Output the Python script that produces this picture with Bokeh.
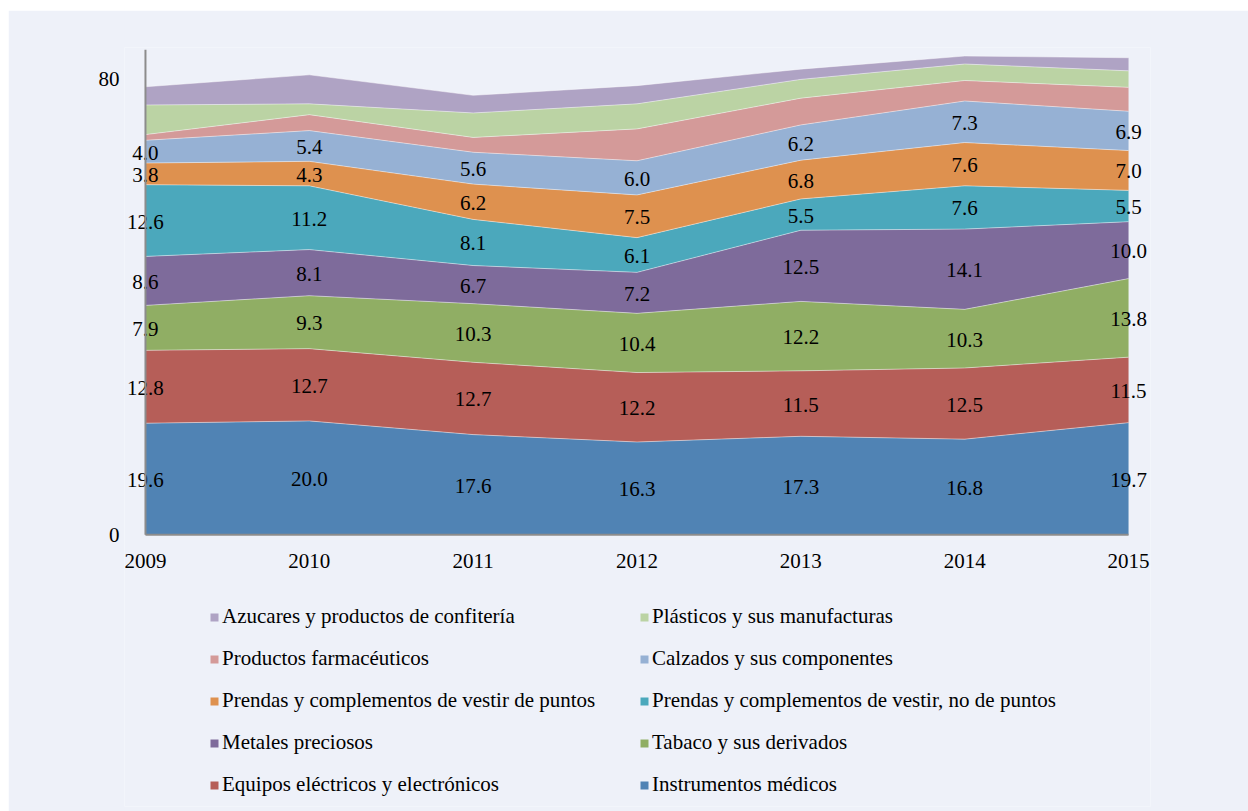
from bokeh.plotting import figure
from bokeh.models import (Range1d, FixedTicker, Legend, LegendItem, ColumnDataSource,
                          Spacer)
from bokeh.layouts import column, row
from bokeh.embed import file_html
from bokeh.resources import INLINE
from bokeh.core.properties import value

# ---- data (percent shares) ----
years = [2009, 2010, 2011, 2012, 2013, 2014, 2015]
instrumentos = [19.6, 20.0, 17.6, 16.3, 17.3, 16.8, 19.7]
equipos = [12.8, 12.7, 12.7, 12.2, 11.5, 12.5, 11.5]
tabaco = [7.9, 9.3, 10.3, 10.4, 12.2, 10.3, 13.8]
metales = [8.6, 8.1, 6.7, 7.2, 12.5, 14.1, 10.0]
prendas_no_puntos = [12.6, 11.2, 8.1, 6.1, 5.5, 7.6, 5.5]
prendas_puntos = [3.8, 4.3, 6.2, 7.5, 6.8, 7.6, 7.0]
calzados = [4.0, 5.4, 5.6, 6.0, 6.2, 7.3, 6.9]
farmaceuticos = [1.0, 2.8, 2.6, 5.6, 4.7, 3.6, 4.2]
plasticos = [5.2, 1.9, 4.3, 4.4, 3.3, 2.9, 2.9]
azucares = [3.2, 5.1, 3.1, 3.2, 1.8, 1.4, 2.3]

names = [
    "Instrumentos médicos",
    "Equipos eléctricos y electrónicos",
    "Tabaco y sus derivados",
    "Metales preciosos",
    "Prendas y complementos de vestir, no de puntos",
    "Prendas y complementos de vestir de puntos",
    "Calzados y sus componentes",
    "Productos farmacéuticos",
    "Plásticos y sus manufacturas",
    "Azucares y productos de confitería",
]
series = [instrumentos, equipos, tabaco, metales, prendas_no_puntos,
          prendas_puntos, calzados, farmaceuticos, plasticos, azucares]
labelled = 7  # bottom series carrying value labels
colors = ["#5083B4", "#B65E58", "#90AE64", "#7E6B9B", "#4BA8BC",
          "#DE914F", "#96B1D4", "#D49A99", "#BBD3A4", "#AFA3C4"]
y_ticks = [0, 80]
axis_top = 85.2

legend_left = ["Azucares y productos de confitería", "Productos farmacéuticos",
               "Prendas y complementos de vestir de puntos", "Metales preciosos",
               "Equipos eléctricos y electrónicos"]
legend_right = ["Plásticos y sus manufacturas", "Calzados y sus componentes",
                "Prendas y complementos de vestir, no de puntos", "Tabaco y sus derivados",
                "Instrumentos médicos"]

FONT = "Liberation Serif"
BG = "#EEF1F9"
AXIS = "#8C8C8C"

keys = ["s%d" % i for i in range(len(series))]
data = {"year": years}
for k, s in zip(keys, series):
    data[k] = s
src = ColumnDataSource(data)

# The frame reaches below the axis so that the legend (drawn in the frame) is not clipped,
# and is a little wider than the data so that the edge value labels show in full.
p = figure(width=1240, height=801, output_backend="svg", toolbar_location=None,
           x_range=Range1d(years[0] - 0.128, years[-1] + 0.134),
           y_range=Range1d(-47.73, 85.6),
           min_border_left=116, min_border_right=98,
           min_border_top=37, min_border_bottom=5)
p.background_fill_color = BG
p.border_fill_color = BG
p.outline_line_color = None
p.grid.visible = False

rends = p.varea_stack(stackers=keys, x="year", source=src, color=colors)

cum = [0.0] * len(years)
for i, s in enumerate(series):
    mids = [c + v / 2 for c, v in zip(cum, s)]
    cum = [c + v for c, v in zip(cum, s)]
    p.line(years, cum, line_color="white", line_alpha=0.45, line_width=1)
    if i < labelled:
        p.text(x=years, y=mids, text=["%.1f" % v for v in s],
               text_font=value(FONT), text_font_size="21px", text_color="black",
               text_align="center", text_baseline="middle", y_offset=1)

# axis lines drawn at the data extent
p.line([years[0], years[-1]], [0, 0], line_color=AXIS, line_width=2)
p.line([years[0], years[0]], [0, axis_top], line_color=AXIS, line_width=2)

for ax in (p.xaxis[0], p.yaxis[0]):
    ax.axis_line_color = None
    ax.major_tick_line_color = None
    ax.minor_tick_line_color = None
    ax.major_tick_in = 0
    ax.major_tick_out = 0
    ax.minor_tick_out = 0
    ax.major_label_text_font = FONT
    ax.major_label_text_font_size = "21px"
    ax.major_label_text_color = "black"

p.xaxis.ticker = FixedTicker(ticks=years)
p.xaxis.fixed_location = 0
p.yaxis.ticker = FixedTicker(ticks=y_ticks)
p.xaxis.major_label_standoff = 19
p.yaxis.major_label_standoff = 5

by_name = dict(zip(names, rends))

def make_legend(items, loc):
    return Legend(items=[LegendItem(label=n, renderers=[by_name[n]]) for n in items],
                  location=loc, orientation="vertical",
                  glyph_width=10, glyph_height=10, label_standoff=3,
                  spacing=17, padding=0, margin=0, label_height=25,
                  border_line_color=None, background_fill_alpha=0,
                  label_text_font=FONT, label_text_font_size="21px",
                  label_text_color="black")

p.add_layout(make_legend(legend_left, (85, 9)))
p.add_layout(make_legend(legend_right, (515, 9)))

layout = column(Spacer(width=1248, height=10),
                row(Spacer(width=8, height=801), p))

open("out.html", "w").write(file_html(layout, INLINE))
